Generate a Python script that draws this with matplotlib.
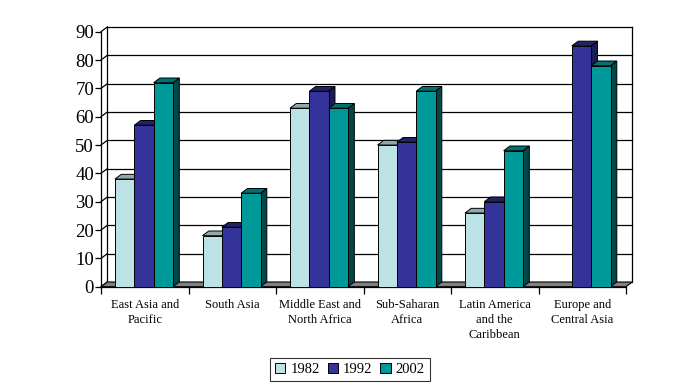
import numpy as np
import matplotlib.pyplot as plt
from matplotlib.patches import Polygon, Patch

plt.rcParams['font.family'] = ['Liberation Serif', 'DejaVu Serif']

categories = ['East Asia and\nPacific', 'South Asia', 'Middle East and\nNorth Africa',
              'Sub-Saharan\nAfrica', 'Latin America\nand the\nCaribbean', 'Europe and\nCentral Asia']
years = ['1982', '1992', '2002']
v1982 = [38, 18, 63, 50, 26, 0]
v1992 = [57, 21, 69, 51, 30, 85]
v2002 = [72, 33, 63, 69, 48, 78]
yticks = np.arange(0, 91, 10)

series = [v1982, v1992, v2002]
front_cols = ['#bde2e6', '#333399', '#009999']
top_cols = ['#8fa9ad', '#222266', '#007070']
side_cols = ['#7f9a9d', '#1c1c55', '#004848']

fig = plt.figure(figsize=(7, 3.91), dpi=100)
ax = fig.add_axes([101/700, 1 - 286.7/391, 525/700, (286.7 - 31.7)/391])
ax.set_xlim(0, len(categories))
ax.set_ylim(0, 90)

# 3d depth offset in data units
dx, dy = 0.072, 1.66
n = len(categories)

# floor
floor = Polygon([(0, 0), (n, 0), (n + dx, dy), (dx, dy)], closed=True,
                facecolor='#808080', edgecolor='black', lw=0.8, zorder=2, clip_on=False)
ax.add_patch(floor)

# back wall gridlines + walls + diagonal ticks
for v in yticks[1:]:
    ax.plot([dx, n + dx], [v + dy, v + dy], color='black', lw=0.9, zorder=1, clip_on=False)
for v in yticks:
    ax.plot([0, dx], [v, v + dy], color='black', lw=0.9, zorder=1, clip_on=False)
ax.plot([dx, dx], [dy, 90 + dy], color='black', lw=0.9, zorder=1, clip_on=False)
ax.plot([n + dx, n + dx], [dy, 90 + dy], color='black', lw=0.9, zorder=1, clip_on=False)

# bars
w = 0.221
start = 0.16
for c in range(n):
    for i, vals in enumerate(series):
        v = vals[c]
        if v <= 0:
            continue
        x0 = c + start + i * w
        z = 3 + i
        side = Polygon([(x0 + w, 0), (x0 + w + dx, dy), (x0 + w + dx, v + dy), (x0 + w, v)],
                       facecolor=side_cols[i], edgecolor='black', lw=0.7, zorder=z, clip_on=False)
        top = Polygon([(x0, v), (x0 + w, v), (x0 + w + dx, v + dy), (x0 + dx, v + dy)],
                      facecolor=top_cols[i], edgecolor='black', lw=0.7, zorder=z, clip_on=False)
        front = Polygon([(x0, 0), (x0 + w, 0), (x0 + w, v), (x0, v)],
                        facecolor=front_cols[i], edgecolor='black', lw=0.7, zorder=z, clip_on=False)
        ax.add_patch(side)
        ax.add_patch(top)
        ax.add_patch(front)

for s in ['top', 'right']:
    ax.spines[s].set_visible(False)
ax.spines['left'].set_linewidth(0.9)
ax.spines['bottom'].set_linewidth(0.9)
ax.spines['bottom'].set_zorder(2.5)

ax.set_yticks(yticks)
ax.set_yticklabels([str(t) for t in yticks], fontsize=13.5)
ax.tick_params(axis='y', length=4, width=0.9, pad=1)

ax.set_xticks(np.arange(0, n + 1))
ax.set_xticklabels([])
ax.tick_params(axis='x', which='major', length=5, width=0.9)
ax.set_xticks(np.arange(n) + 0.5, minor=True)
ax.set_xticklabels(categories, minor=True, fontsize=9, linespacing=1.35)
ax.tick_params(axis='x', which='minor', length=0, pad=9)

handles = [Patch(facecolor=front_cols[i], edgecolor='black', lw=0.7, label=years[i]) for i in range(3)]
leg = fig.legend(handles=handles, loc='center', bbox_to_anchor=(350/700, 1 - 369.5/391),
                 ncol=3, frameon=True, fancybox=False, fontsize=10.5, handlelength=0.7,
                 handleheight=0.7, handletextpad=0.35, columnspacing=0.55, borderpad=0.35)
leg.get_frame().set_edgecolor('black')
leg.get_frame().set_linewidth(0.8)

fig.savefig('out.png', dpi=100)
